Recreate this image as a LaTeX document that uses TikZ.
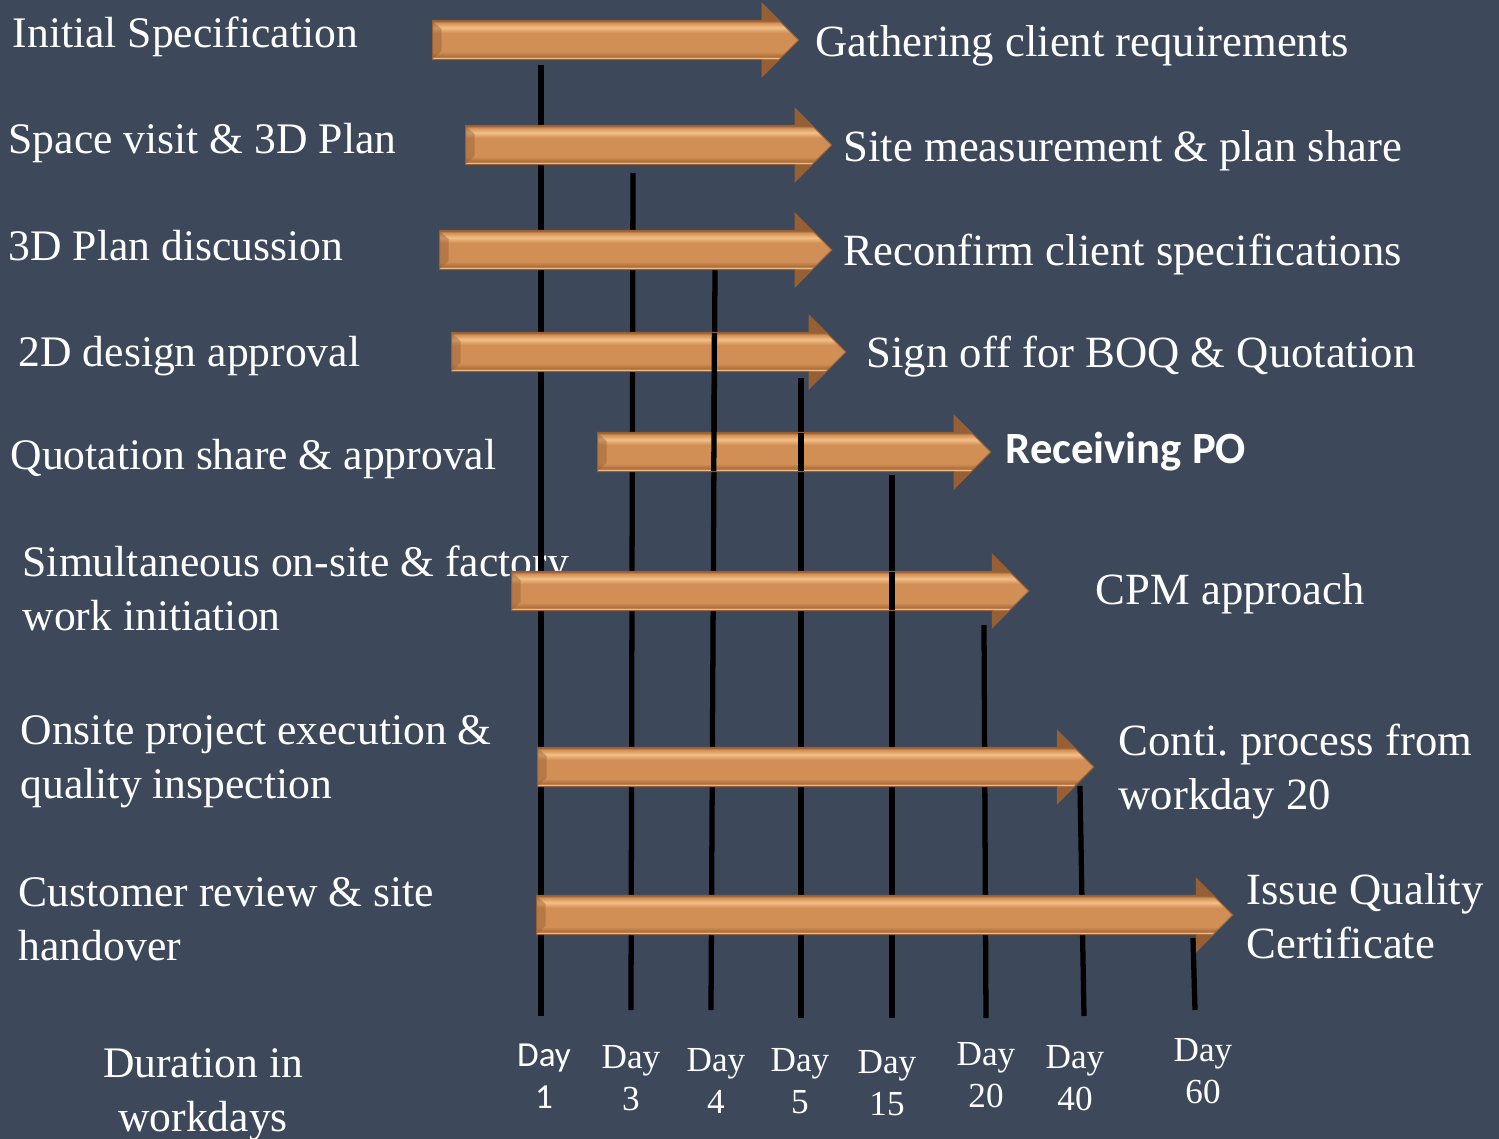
\documentclass[tikz,border=0pt]{standalone}
\usepackage{fontspec}
\setmainfont{Liberation Serif}
\newfontfamily\calibri{Carlito}
\usepackage{tikz}
\usetikzlibrary{shapes.arrows}

\definecolor{slate}{RGB}{61,73,91}
\definecolor{barmid}{RGB}{210,143,85}
\definecolor{barlight}{RGB}{243,192,136}
\definecolor{barshadow}{RGB}{170,110,60}
\definecolor{bardark}{RGB}{150,96,52}

\pgfdeclareverticalshading{barshade}{100bp}{color(0bp)=(bardark); color(36.8bp)=(bardark); color(37.6bp)=(barlight); color(38.6bp)=(barshadow); color(42bp)=(barmid); color(55bp)=(barmid); color(58.5bp)=(barlight); color(61.8bp)=(barmid); color(63.2bp)=(bardark); color(100bp)=(bardark)}

\tikzset{
  bar/.style={single arrow, anchor=tail, shade, shading=barshade, draw=bardark, line width=0.3pt,
    inner xsep=0pt, inner ysep=1.9mm, single arrow head extend=1.7mm,
    path picture={\fill[bardark, opacity=.45] ([yshift=1.9mm]path picture bounding box.west)
      -- ++(0.9mm,-0.8mm) -- ++(0,-2.2mm) -- ++(-0.9mm,-0.8mm) -- cycle;}},
  task/.style={anchor=base west, inner sep=0pt, text=white, align=left,
    font=\fontsize{12.4}{15.1}\selectfont\frenchspacing},
  outcome/.style={task, font=\fontsize{12.7}{15.1}\selectfont\frenchspacing},
  daylbl/.style={anchor=base, inner sep=0pt, text=white, align=center,
    font=\fontsize{10}{11.7}\selectfont},
  dayline/.style={line width=1.5pt, black}
}

\begin{document}
\begin{tikzpicture}[x=0.01cm, y=-0.01cm]
	\useasboundingbox[fill=slate] (0,0) rectangle (1499,1139);

	% stages
	\node[task] (spec) at (12,47) {Initial Specification};
	\node[task] (visit) at (8,153) {Space visit \& 3D Plan};
	\node[task] (discuss) at (8,260) {3D Plan discussion};
	\node[task] (design) at (18,366) {2D design approval};
	\node[task] (quote) at (10,469) {Quotation share \& approval};
	\node[task] (start) at (22,630) {Simultaneous on-site \& factory\\work initiation};
	\node[task] (execute) at (20,798) {Onsite project execution \&\\quality inspection};
	\node[task] (handover) at (18,960) {Customer review \& site\\handover};
	\node[task, anchor=base, align=center] (duration) at (203,1131) {Duration in\\workdays};

	% outcomes
	\node[outcome] (gather) at (815,56) {Gathering client requirements};
	\node[outcome] (measure) at (843,161) {Site measurement \& plan share};
	\node[outcome] (reconfirm) at (843,265) {Reconfirm client specifications};
	\node[outcome] (signoff) at (866,367) {Sign off for BOQ \& Quotation};
	\node[outcome, font=\calibri\bfseries\fontsize{12.7}{15.1}\selectfont] (po) at (1005,463) {Receiving PO};
	\node[outcome] (cpm) at (1095,604) {CPM approach};
	\node[outcome] (conti) at (1118,809) {Conti. process from\\workday 20};
	\node[outcome] (certificate) at (1246,958) {Issue Quality\\Certificate};

	% day lines
	\coordinate (d1top) at (541,65);   \coordinate (d1bot) at (541,1016);
	\coordinate (d3top) at (633,173);  \coordinate (d3bot) at (631,1010);
	\coordinate (d4top) at (715,270);  \coordinate (d4bot) at (711,1010);
	\coordinate (d5top) at (801,378);  \coordinate (d5bot) at (801,1018);
	\coordinate (d15top) at (892,475); \coordinate (d15bot) at (892,1018);
	\coordinate (d20top) at (984,625); \coordinate (d20bot) at (986,1018);
	\coordinate (d40top) at (1080,786); \coordinate (d40bot) at (1084,1016);
	\coordinate (d60top) at (1193,938); \coordinate (d60bot) at (1195,1010);
	\draw[dayline] (d1top) -- (d1bot);
	\draw[dayline] (d3top) -- (d3bot);
	\draw[dayline] (d4top) -- (d4bot);
	\draw[dayline] (d5top) -- (d5bot);
	\draw[dayline] (d15top) -- (d15bot);
	\draw[dayline] (d20top) -- (d20bot);
	\draw[dayline] (d40top) -- (d40bot);
	\draw[dayline] (d60top) -- (d60bot);

	% bars
	\node[bar, minimum height=36.6mm] (bar1) at (432,40) {};
	\node[bar, minimum height=36.6mm] (bar2) at (465,145) {};
	\node[bar, minimum height=39.2mm] (bar3) at (439,250) {};
	\node[bar, minimum height=39.4mm] (bar4) at (451,352) {};
	\node[bar, minimum height=39.3mm] (bar5) at (597,452) {};
	\node[bar, minimum height=51.7mm] (bar6) at (511,591) {};
	\node[bar, minimum height=55.6mm] (bar7) at (537,767) {};
	\node[bar, minimum height=69.6mm] (bar8) at (536,915) {};

	% lines running over the bars
	\coordinate (d4a) at (714.4,333); \coordinate (d4b) at (713.8,471);
	\coordinate (d5a) at (801,433);   \coordinate (d5b) at (801,471);
	\coordinate (d15a) at (892,572);  \coordinate (d15b) at (892,610);
	\draw[dayline] (d4a) -- (d4b);
	\draw[dayline] (d5a) -- (d5b);
	\draw[dayline] (d15a) -- (d15b);

	% days
	\node[daylbl, font=\calibri\fontsize{10}{11.7}\selectfont] (day1) at (544,1108) {Day\\1};
	\node[daylbl] (day3) at (631,1110) {Day\\3};
	\node[daylbl] (day4) at (716,1113) {Day\\4};
	\node[daylbl] (day5) at (800,1113) {Day\\5};
	\node[daylbl] (day15) at (887,1115) {Day\\15};
	\node[daylbl] (day20) at (986,1107) {Day\\20};
	\node[daylbl] (day40) at (1075,1110) {Day\\40};
	\node[daylbl] (day60) at (1203,1103) {Day\\60};
\end{tikzpicture}
\end{document}
